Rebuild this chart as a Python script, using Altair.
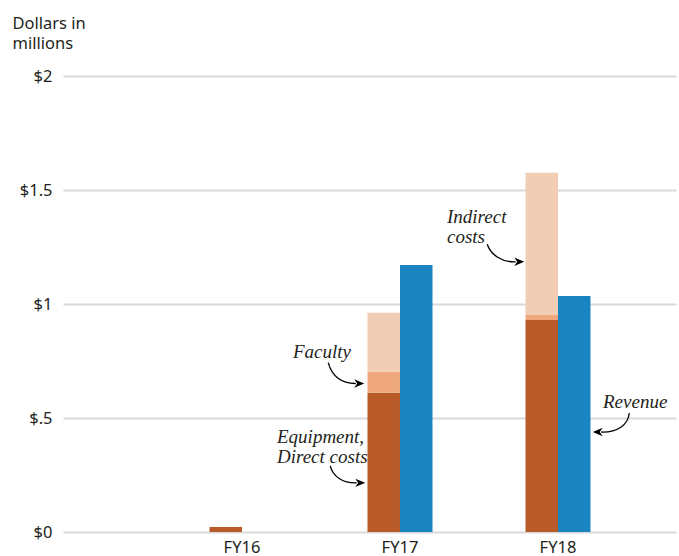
import altair as alt
import pandas as pd

# Fiscal years and dollar amounts (millions)
years = ["FY16", "FY17", "FY18"]
direct_costs = [0.022, 0.611, 0.930]   # equipment, direct costs
faculty_costs = [0.0, 0.092, 0.022]
indirect_costs = [0.0, 0.259, 0.624]
revenue = [0.0, 1.171, 1.035]

components = ["Equipment, Direct costs", "Faculty", "Indirect costs", "Revenue"]
colors = ["#b85b28", "#efa87c", "#f0cdb4", "#1a84c0"]

SANS = "Noto Sans"
SERIF = "Liberation Serif"
INK = "#231f20"

# Long table with stacked start/end values for each segment
rows = []
for i, yr in enumerate(years):
    base = 0.0
    for comp, val in zip(components[:3], [direct_costs[i], faculty_costs[i], indirect_costs[i]]):
        rows.append({"year": yr, "group": "Costs", "component": comp,
                     "start": base, "end": base + val})
        base += val
    rows.append({"year": yr, "group": "Revenue", "component": "Revenue",
                 "start": 0.0, "end": revenue[i]})
bars_df = pd.DataFrame(rows)
bars_df = bars_df[bars_df["end"] > bars_df["start"]]

x_enc = alt.X("year:N", sort=years,
              scale=alt.Scale(domain=years, paddingInner=0.1772, paddingOuter=0.5285, align=0.6826),
              axis=alt.Axis(title=None, domain=False, ticks=False, labelAngle=0,
                            labelFont=SANS, labelFontSize=16.5, labelColor=INK,
                            labelPadding=7, labelBaseline="top"))
xo_enc = alt.XOffset("group:N", sort=["Costs", "Revenue"],
                     scale=alt.Scale(domain=["Costs", "Revenue"], paddingInner=0, paddingOuter=1))
y_scale = alt.Scale(domain=[0, 2], nice=False, zero=True)

bars = alt.Chart(bars_df).mark_bar(strokeWidth=0).encode(
    x=x_enc,
    xOffset=xo_enc,
    y=alt.Y("start:Q", scale=y_scale,
            axis=alt.Axis(values=[0, 0.5, 1, 1.5, 2],
                          labelExpr="datum.value == 0 ? '$0' : datum.value < 1 ? '$.5' : '$' + datum.value",
                          domain=False, ticks=False, grid=True, gridColor="#d9d9d9", gridWidth=2,
                          labelFont=SANS, labelFontSize=16.5, labelColor=INK, labelPadding=11,
                          title=["Dollars in", "millions"], titleFont=SANS, titleFontSize=16.5,
                          titleFontWeight="normal", titleColor=INK, titleAngle=0,
                          titleAlign="left", titleBaseline="alphabetic",
                          titleX=-51, titleY=-48, titleLineHeight=20)),
    y2="end:Q",
    color=alt.Color("component:N", scale=alt.Scale(domain=components, range=colors), legend=None),
)


def path(points):
    """Cubic curve through pixel offsets, scaled for a size-40000 symbol."""
    s = [f"{p[0] / 100:.4f},{p[1] / 100:.4f}" for p in points]
    return "M" + s[0] + " C" + " ".join(s[1:])


def head(tip, direction):
    """Barbed arrowhead at a pixel offset, pointing along direction."""
    dx, dy = direction
    n = (dx * dx + dy * dy) ** 0.5
    dx, dy = dx / n, dy / n
    px, py = -dy, dx
    L, W, N = 10, 4.2, 7
    tx, ty = tip
    pts = [(tx, ty),
           (tx - L * dx + W * px, ty - L * dy + W * py),
           (tx - N * dx, ty - N * dy),
           (tx - L * dx - W * px, ty - L * dy - W * py)]
    return "M" + " L".join(f"{x / 100:.4f},{y / 100:.4f}" for x, y in pts) + " Z"


# Annotations anchored to bar segments: label lines, text offset, curve, arrow tip
notes = [
    {"year": "FY17", "group": "Costs", "value": faculty_costs[1] / 2 + direct_costs[1],
     "text": ["Faculty"], "dx": -90.75, "dy": -24.7,
     "curve": [(-55.5, -19.5), (-52, -6), (-42, 1.5), (-28, 1.3)], "tip": (-19.5, 1.3), "dir": (1, 0)},
    {"year": "FY17", "group": "Costs", "value": direct_costs[1] / 2,
     "text": ["Equipment,", "Direct costs"], "dx": -106.75, "dy": -19.5,
     "curve": [(-53.5, 3.5), (-51, 14), (-41, 21), (-27, 20.5)], "tip": (-18.5, 20.5), "dir": (1, 0)},
    {"year": "FY18", "group": "Costs", "value": direct_costs[2] + faculty_costs[2] + indirect_costs[2] / 2,
     "text": ["Indirect", "costs"], "dx": -94.75, "dy": -20.5,
     "curve": [(-54.5, 0.5), (-51, 11), (-40, 18.5), (-26, 18)], "tip": (-17.5, 18), "dir": (1, 0)},
    {"year": "FY18", "group": "Revenue", "value": revenue[2] / 2,
     "text": ["Revenue"], "dx": 28.75, "dy": -6.5,
     "curve": [(55, -1), (54, 11), (43, 18.5), (27, 18)], "tip": (18.5, 18), "dir": (-1, 0)},
]

layers = [bars]
for note in notes:
    anchor = pd.DataFrame([{"year": note["year"], "group": note["group"], "value": note["value"]}])
    base = alt.Chart(anchor).encode(x=alt.X("year:N", sort=years), xOffset=alt.XOffset("group:N"),
                                    y=alt.Y("value:Q"))
    layers.append(base.mark_text(text=note["text"], align="left", baseline="alphabetic",
                                 dx=note["dx"], dy=note["dy"], font=SERIF, fontStyle="italic",
                                 fontSize=19, lineHeight=20, color=INK))
    layers.append(base.mark_point(shape=path(note["curve"]), size=40000, filled=False,
                                  stroke="black", strokeWidth=1.3, opacity=1))
    layers.append(base.mark_point(shape=head(note["tip"], note["dir"]), size=40000, filled=True,
                                  fill="black", strokeWidth=0, opacity=1))

chart = alt.layer(*layers).properties(
    width=613, height=456,
    autosize=alt.AutoSizeParams(type="none"),
    padding={"left": 63, "top": 76, "right": 3, "bottom": 24},
).configure(background="white", view=alt.ViewConfig(strokeWidth=0))

chart.save("out.html", embed_options={"renderer": "svg", "actions": False})
